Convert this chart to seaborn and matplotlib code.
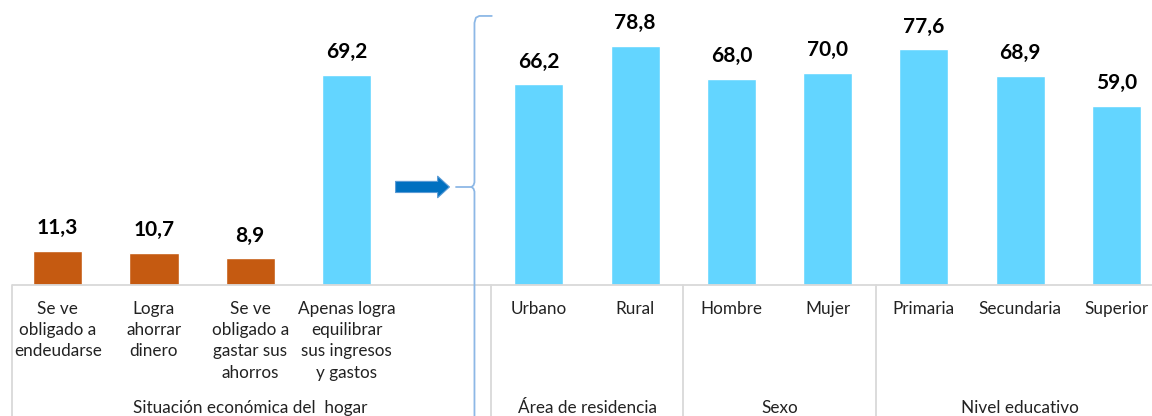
import seaborn as sns
import pandas as pd
import matplotlib.pyplot as plt

# left block: household economic situation, right block: breakdown of "Apenas logra..."
left_cats = ["Se ve\nobligado a\nendeudarse", "Logra\nahorrar\ndinero",
             "Se ve\nobligado a\ngastar sus\nahorros",
             "Apenas logra\nequilibrar\nsus ingresos\ny gastos"]
left_vals = [11.3, 10.7, 8.9, 69.2]

right_cats = ["Urbano", "Rural", "Hombre", "Mujer", "Primaria", "Secundaria", "Superior"]
right_vals = [66.2, 78.8, 68.0, 70.0, 77.6, 68.9, 59.0]

groups = ["Situación económica del  hogar", "Área de residencia", "Sexo", "Nivel educativo"]
group_pos = [2.0, 5.5, 7.5, 10.0]
separators = [-0.48, 4.5, 6.5, 8.5]

ORANGE = "#C55A11"
BLUE = "#63D5FF"

df = pd.DataFrame({"cat": left_cats + right_cats, "val": left_vals + right_vals})
order = left_cats + [" "] + right_cats
palette = {c: ORANGE for c in left_cats[:3]}
palette.update({c: BLUE for c in left_cats[3:] + right_cats})

sns.set_style("white")
plt.rcParams["font.family"] = ["Lato", "DejaVu Sans"]

fig = plt.figure(figsize=(11.52, 4.16), dpi=100)
ax = fig.add_axes([0, 131 / 416, 1, 285 / 416])

sns.barplot(data=df, x="cat", y="val", hue="cat", order=order, palette=palette,
            width=0.51, legend=False, ax=ax, saturation=1)

for cont in ax.containers:
    ax.bar_label(cont, labels=[f"{b.get_height():.1f}".replace(".", ",") for b in cont],
                 padding=9, fontsize=15, fontweight="bold", color="#000000")

ax.set_xlim(-0.6, 11.37)
ax.set_ylim(0, 93.9)
sns.despine(ax=ax, left=True, bottom=True)
ax.set_yticks([])
ax.set_xlabel("")
ax.set_ylabel("")
ax.tick_params(axis="x", length=0, pad=11.5, labelsize=12.3, labelcolor="#222222")
for lbl in ax.get_xticklabels():
    lbl.set_linespacing(1.4)

# baseline and separators
trans = ax.get_xaxis_transform()
ax.hlines(0, -0.48, 11.37, color="#d9d9d9", lw=1.3, clip_on=False)
for s in separators:
    ax.plot([s, s], [0, -0.46], transform=trans, color="#d9d9d9", lw=1.3, clip_on=False)

for g, p in zip(groups, group_pos):
    ax.text(p, -0.43, g, transform=trans, ha="center", va="center", fontsize=12.3, color="#222222")

# brace linking the 69,2 bar to its breakdown
bx = 4.33
brace_x = [4.51, 4.38, 4.345, bx, bx, 4.32, 4.30, 4.32, bx, bx]
brace_y = [0.944, 0.944, 0.938, 0.92, 0.36, 0.35, 0.344, 0.338, 0.328, -0.46]
ax.plot(brace_x, brace_y, transform=trans, color="#8DB8E6", lw=1.3, clip_on=False)
ax.plot([4.14, 4.30], [0.344, 0.344], transform=trans, color="#8DB8E6", lw=1.3, clip_on=False)

ax.annotate("", xy=(4.07, 0.344), xytext=(3.51, 0.344), xycoords=trans, textcoords=trans,
            arrowprops=dict(arrowstyle="simple,head_length=0.85,head_width=1.55,tail_width=0.8",
                            mutation_scale=10, fc="#0070C0", ec="#5B9BD5", lw=0.8,
                            shrinkA=0, shrinkB=0))

fig.savefig("out.png", dpi=100)
